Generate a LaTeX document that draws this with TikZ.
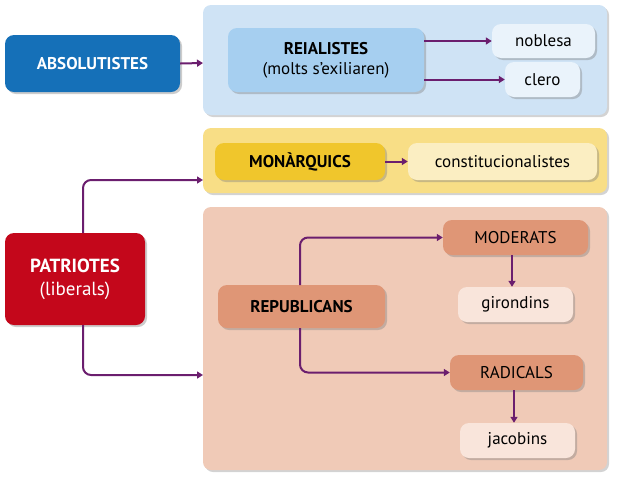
\documentclass[tikz,border=0pt]{standalone}
\usepackage{fontspec}
\setmainfont{PT Sans}
\usetikzlibrary{shadows,arrows.meta}
\definecolor{pur}{HTML}{6B1E6E}
\definecolor{bluedark}{HTML}{1570B8}
\definecolor{bluepanel}{HTML}{CFE3F5}
\definecolor{bluemid}{HTML}{A6CFF0}
\definecolor{bluelight}{HTML}{EAF3FB}
\definecolor{yelpanel}{HTML}{F8DE86}
\definecolor{yelmid}{HTML}{F0C62C}
\definecolor{yellight}{HTML}{FBEEC2}
\definecolor{pinkpanel}{HTML}{F0CAB7}
\definecolor{pinkmid}{HTML}{DF9676}
\definecolor{pinklight}{HTML}{F9E5DB}
\definecolor{reddark}{HTML}{C4071B}
\begin{document}
\begin{tikzpicture}[x=1pt,y=1pt,
  panel/.style={rounded corners=8pt,drop shadow={shadow xshift=2pt,shadow yshift=-2pt,opacity=.35}},
  bx/.style={rounded corners=9pt,drop shadow={shadow xshift=2pt,shadow yshift=-2pt,opacity=.4},inner sep=0pt,align=center},
  arr/.style={draw=pur,line width=2pt,-{Triangle[length=6pt,width=7pt]}}]
\useasboundingbox (0,0) rectangle (617,-480);
% panels
\fill[bluepanel,panel] (203,-5) rectangle (607,-115);
\fill[yelpanel,panel] (203,-128) rectangle (607,-193);
\fill[pinkpanel,panel] (203,-207) rectangle (607,-470);
\coordinate (bp) at (203,-63);
\coordinate (yp) at (203,-180);
\coordinate (pp) at (203,-375);
% boxes
\node[bx,fill=bluedark,minimum width=175pt,minimum height=57pt,text=white,font=\bfseries\fontsize{17}{20}\selectfont] (abs) at (92.5,-63.5) {ABSOLUTISTES};
\node[bx,fill=bluemid,minimum width=196pt,minimum height=64pt,font=\fontsize{17}{20}\selectfont] (rei) at (326,-60) {\textbf{REIALISTES}\\(molts s'exiliaren)};
\node[bx,fill=bluelight,minimum width=103pt,minimum height=34pt,font=\fontsize{17}{20}\selectfont] (nob) at (543.5,-41) {noblesa};
\node[bx,fill=bluelight,minimum width=75pt,minimum height=35pt,font=\fontsize{17}{20}\selectfont] (cle) at (542.5,-79.5) {clero};
\node[bx,fill=yelmid,minimum width=170pt,minimum height=37pt,font=\bfseries\fontsize{17}{20}\selectfont] (mon) at (300,-161.5) {MONÀRQUICS};
\node[bx,fill=yellight,minimum width=189pt,minimum height=37pt,font=\fontsize{17}{20}\selectfont] (con) at (502.5,-161.5) {constitucionalistes};
\node[bx,fill=reddark,minimum width=140pt,minimum height=92pt,text=white,font=\fontsize{19}{23}\selectfont] (pat) at (75,-279) {\textbf{PATRIOTES}\\(liberals)};
\node[bx,fill=pinkmid,minimum width=167pt,minimum height=43pt,font=\bfseries\fontsize{17}{20}\selectfont] (rep) at (301.5,-306.5) {REPUBLICANS};
\node[bx,fill=pinkmid,minimum width=145pt,minimum height=35pt,font=\fontsize{17}{20}\selectfont] (mod) at (515.5,-237.5) {MODERATS};
\node[bx,fill=pinklight,minimum width=115pt,minimum height=35pt,font=\fontsize{17}{20}\selectfont] (gir) at (515.5,-304.5) {girondins};
\node[bx,fill=pinkmid,minimum width=133pt,minimum height=35pt,font=\fontsize{17}{20}\selectfont] (rad) at (516.5,-372.5) {RADICALS};
\node[bx,fill=pinklight,minimum width=115pt,minimum height=35pt,font=\fontsize{17}{20}\selectfont] (jac) at (517.5,-440.5) {jacobins};
% arrows
\draw[arr] (abs.east) -- (bp);
\draw[arr] (rei.east |- nob.west) -- (nob.west);
\draw[arr] (rei.east |- cle.west) -- (cle.west);
\draw[arr] (mon.east) -- (con.west);
\draw[arr,rounded corners=8pt] (83,-233) -- (83,-180) -- (yp);
\draw[arr,rounded corners=8pt] (83,-325) -- (83,-375) -- (pp);
\draw[arr,rounded corners=8pt] (300,-285) |- (mod.west);
\draw[arr,rounded corners=8pt] (300,-328) |- (rad.west);
\draw[arr] (mod.south -| 512,0) -- (gir.north -| 512,0);
\draw[arr] (rad.south -| 514,0) -- (jac.north -| 514,0);
\end{tikzpicture}
\end{document}
